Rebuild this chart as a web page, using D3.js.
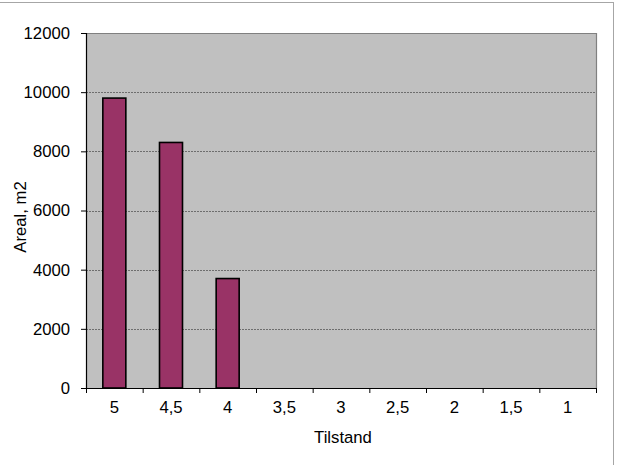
<!DOCTYPE html>
<html><head><meta charset="utf-8">
<script src="https://cdn.jsdelivr.net/npm/d3@7"></script>
<style>body{margin:0;background:#fff}svg{display:block}text{font-family:"Liberation Sans",Arial,sans-serif;fill:#000}</style>
</head><body>
<svg id="c" width="617" height="465"></svg>
<script>
const categories = ["5","4,5","4","3,5","3","2,5","2","1,5","1"];
const values = [9800, 8300, 3700, 0, 0, 0, 0, 0, 0];
const yTicks = [0, 2000, 4000, 6000, 8000, 10000, 12000];
const xTitle = "Tilstand";
const yTitle = "Areal, m2";

const svg = d3.select("#c");
const L = 86, R = 596, T = 33, B = 388;
const fs = 16.7;

svg.append("rect").attr("x", -5).attr("y", 2.5).attr("width", 618.5).attr("height", 475)
  .attr("fill", "#fff").attr("stroke", "#a6a6a6").attr("stroke-width", 1);

const xb = d3.scaleBand().domain(categories).range([L, R]);
const y = d3.scaleLinear().domain([0, 12000]).range([B, T]);

svg.append("rect").attr("x", L).attr("y", T).attr("width", R - L).attr("height", B - T).attr("fill", "#c0c0c0");

svg.append("g").selectAll("line").data(yTicks.filter(d => d > 0 && d < 12000)).join("line")
  .attr("x1", L).attr("x2", R).attr("y1", d => Math.round(y(d)) + 0.5).attr("y2", d => Math.round(y(d)) + 0.5)
  .attr("stroke", "#6e6e6e").attr("stroke-width", 1).attr("stroke-dasharray", "2,1");

// top and right border
svg.append("path").attr("d", `M${L},${T + 0.5}H${R + 0.5}V${B}`).attr("fill", "none").attr("stroke", "#808080").attr("stroke-width", 1.2);

svg.append("g").selectAll("rect").data(values.map((v, i) => ({c: categories[i], v})).filter(d => d.v > 0)).join("rect")
  .attr("x", d => xb(d.c) + xb.bandwidth() / 2 - 11.5)
  .attr("width", 23)
  .attr("y", d => y(d.v))
  .attr("height", d => B - y(d.v))
  .attr("fill", "#993366").attr("stroke", "#000").attr("stroke-width", 1.6);

// Y axis
const yAxis = d3.axisLeft(y).tickValues(yTicks).tickSize(5).tickPadding(11).tickFormat(d3.format("d"));
const gy = svg.append("g").attr("transform", `translate(${L},0)`).call(yAxis);
gy.attr("font-size", fs).attr("font-family", "Liberation Sans, Arial, sans-serif");
gy.select(".domain").remove();
gy.selectAll(".tick line").attr("stroke", "#000");
gy.selectAll(".tick text").attr("font-size", fs).attr("fill", "#000");
svg.append("line").attr("x1", L + 0.5).attr("x2", L + 0.5).attr("y1", T).attr("y2", B).attr("stroke", "#000").attr("stroke-width", 1.2);

// X axis
const gx = svg.append("g").attr("transform", `translate(0,${B})`);
gx.selectAll("line").data(d3.range(categories.length + 1)).join("line")
  .attr("x1", i => L + i * xb.step() + 0.5).attr("x2", i => L + i * xb.step() + 0.5)
  .attr("y1", 0).attr("y2", 5).attr("stroke", "#000");
gx.selectAll("text").data(categories).join("text")
  .attr("x", d => xb(d) + xb.bandwidth() / 2).attr("y", 25)
  .attr("text-anchor", "middle").attr("font-size", fs).text(d => d);
svg.append("line").attr("x1", L).attr("x2", R + 1).attr("y1", B + 0.5).attr("y2", B + 0.5).attr("stroke", "#000").attr("stroke-width", 1.2);

svg.append("text").attr("x", (L + R) / 2 + 2).attr("y", 443).attr("text-anchor", "middle").attr("font-size", fs).text(xTitle);
svg.append("text").attr("transform", "translate(26,217) rotate(-90)").attr("text-anchor", "middle").attr("font-size", fs).text(yTitle);
</script>
</body></html>
